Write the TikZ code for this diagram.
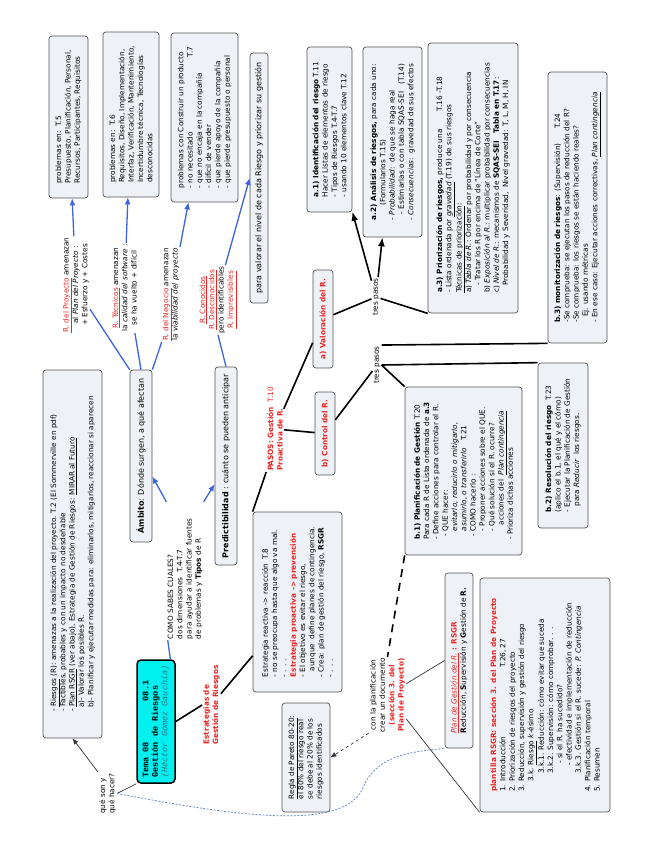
\documentclass[tikz,border=0pt]{standalone}
\usepackage{fontspec}
\setmainfont{DejaVu Sans}
\newfontfamily\temafont{Liberation Mono}
\usepackage{tikz}
\usetikzlibrary{shapes,arrows,arrows.meta,positioning,calc}
\usepackage{xcolor}
\definecolor{rojo}{RGB}{235,35,35}
\definecolor{azul}{RGB}{60,100,225}
\definecolor{fondocaja}{RGB}{238,241,245}
\definecolor{bordecaja}{RGB}{85,85,85}
\definecolor{cian}{RGB}{0,240,240}
\definecolor{autor}{RGB}{60,115,135}
\definecolor{punteado}{RGB}{110,140,195}

\begin{document}
\begin{tikzpicture}[x=1pt, y=-1pt, >={Latex[length=7pt,width=6pt]}, font=\fontsize{7.3}{9.3}\selectfont]

\tikzstyle{caja} = [rectangle, rounded corners=3pt, draw=bordecaja, fill=fondocaja, line width=0.7pt, rotate=90, align=left, inner sep=2pt];
\tikzstyle{etiq} = [rotate=90, align=center, inner sep=1pt];
\tikzstyle{azulflecha} = [->, azul, line width=1.3pt];
\tikzstyle{azullinea} = [azul, line width=1.3pt];
\tikzstyle{negra} = [black, line width=1.6pt];
\tikzstyle{fina} = [black!80, line width=0.7pt];

\fill[white] (0,0) rectangle (655,848);

% Tema central
\node (tema) [caja, fill=cian, draw=black, line width=1.5pt, rounded corners=4pt, minimum width=123pt, minimum height=38pt, font=\temafont\fontsize{8.5}{9.5}\selectfont] at (156,721.5) {\textbf{Tema 08\ \ \ \ \ \ \ \ 08.1}\\\textbf{Gestión de Riesgos}\\\textcolor{autor}{\textit{(Héctor Gómez Gauchía)}}};
\node (queson) [etiq, align=left] at (107.5,793.5) {qué son y\\qué hacer?};
\node (riesgos) [caja, minimum width=368pt, minimum height=59pt] at (72.5,554) {- \underline{Riesgos} (R): amenazas a la realización del proyecto. T.2 (El Sommerville en pdf)\\- Factibles, probables y con un impacto no desdeñable\\- \underline{Plan RSGR} (ver abajo), Estrategia de Gestión de Riesgos: \underline{MIRAR al Futuro}\\\hspace*{4pt}a)- Valorar los posibles R.\\\hspace*{4pt}b)- Planificar y ejecutar medidas para: eliminarlos, mitigarlos, reaccionar si aparecen};

% Ambito y Predictibilidad
\node (como) [etiq, align=left, text width=136pt] at (185,571) {COMO SABES CUALES?\\dos dimensiones\ \ T.4-T.7\\para ayudar a identificar fuentes\\de problemas y \textbf{Tipos} de R};
\node (ambito) [caja, minimum width=172pt, minimum height=22pt, font=\fontsize{8}{9.5}\selectfont] at (141,456) {\textbf{Ámbito}: Dónde surgen, a qué afectan};
\node (predic) [caja, minimum width=198pt, minimum height=22pt, font=\fontsize{8}{9.5}\selectfont] at (226,466) {\textbf{Predictibilidad} : cuánto se pueden anticipar};

% Tipos de riesgo
\node (lproy) [etiq] at (76,285) {\textcolor{rojo}{\underline{R. del Proyecto}} amenazan\\al \textit{Plan del Proyecto} :\\+ Esfuerzo y + Costes};
\node (ltec) [etiq] at (124.5,288) {\textcolor{rojo}{\underline{R. Técnicos}} amenazan\\la \textit{calidad del software} :\\se ha vuelto + difícil};
\node (lneg) [etiq] at (171,294.5) {\textcolor{rojo}{\underline{R. del Negocio}} amenazan\\la \textit{viabilidad del proyecto}};
\node (lconoc) [etiq] at (218,300) {\textcolor{rojo}{\underline{R. Conocidos}}\\\textcolor{rojo}{\underline{R. Desconocidos}}\\pero identificables\\\textcolor{rojo}{\underline{R. Imprevisibles}}};

\node (bproy) [caja, minimum width=162pt, minimum height=39pt] at (68.5,117) {problemas en:\ \ T.5\\Presupuesto, Planificación, Personal,\\Recursos, Participantes, Requisitos};
\node (btec) [caja, minimum width=165pt, minimum height=56pt] at (131,114.5) {problemas en:\ \ T.6\\Requisitos, Diseño, Implementación,\\Interfaz, Verificación, Mantenimiento,\\Incertidumbre técnica, Tecnologías\\desconocidas};
\node (bneg) [caja, minimum width=169pt, minimum height=67pt] at (204.5,117.5) {problemas con Construir un producto\\\makebox[131pt][l]{- no necesitado}T.7\\- que no encaja en la compañía\\- difícil de vender\\- que pierde apoyo de la compañía\\- que pierde presupuesto o personal};
\node (valorar) [caja, minimum width=250pt, minimum height=18pt, font=\fontsize{8}{9.5}\selectfont] at (259,178) {para valorar el nivel de cada Riesgo y priorizar su gestión};

% Estrategias
\node (estratlab) [etiq, align=left, text=rojo] at (211.5,705) {\textbf{Estrategias de}\\\textbf{Gestión de Riesgos}};
\node (estrat) [caja, minimum width=180pt, minimum height=89pt] at (297.5,602) {Estrategia reactiva -> reacción\ \ T.8\\- no se preocupa hasta que algo va mal.\\- . . .\\\textcolor{rojo}{\textbf{Estrategia proactiva -> prevención}}\\- El objetivo es evitar el riesgo,\\\hspace*{0.8em}aunque\ \ define planes de contingencia.\\- Crea: plan de gestión del riesgo, \textbf{RSGR}\\- . . .};
\node (pasos) [etiq, align=left, text=rojo] at (275,429) {\textbf{PASOS: Gestión}\ \ T.10\\\textbf{Proactiva de R.}};

% Pasos a) Valoracion
\node (valA) [caja, minimum width=98pt, minimum height=20pt, text=rojo] at (323,319) {\textbf{a) Valoración del R.}};
\node (tres1) [etiq] at (376,297) {tres pasos};
\node (a1) [caja, minimum width=165pt, minimum height=45pt] at (329.5,129.5) {\textbf{a.1) Identificación del riesgo} T.11\\Hacer Listas de elementos de riesgo\\- Tipos de Riesgos T.4-T.7\\- usando 10 elementos clave T.12};
\node (a2) [caja, minimum width=190pt, minimum height=59pt] at (392.5,142) {\textbf{a.2) Análisis de riesgos,} para cada uno:\\\hspace*{2em}(Formularios T.15)\\- \textit{Probabilidad}:\ \ de que se haga real\\\hspace*{0.8em}- Estimarlas o con tabla SQAS-SEI\ \ \ (T.14)\\- \textit{Consecuencias}:\ \ gravedad de sus efectos};
\node (a3) [caja, minimum width=270pt, minimum height=90pt] at (473,178) {\textbf{a.3) Priorización de riesgos,} produce una\hspace{2.5em}T.16 -T.18\\- Lista ordenada por \textit{\underline{gravedad}} (T.19) de sus riesgos\\\underline{Técnicas de priorización}:\\a) \textit{Tabla de R.}: Ordenar por probabilidad y por consecuencia\\\hspace*{1em}- Tratar los R por encima de ``Línea de Corte''\\b) \textit{Exposición al R.}: multiplicar probabilidad por consecuencias\\c) \textit{Nivel de R.}: mecanismos de \textbf{SQAS-SEI}\ \ \ \textbf{Tabla en T.17}:\\\hspace*{1em}Probabilidad y Severidad,\ \ Nivel gravedad: T, L, M, H, IN};

% Pasos b) Control
\node (ctrlB) [caja, minimum width=83pt, minimum height=20pt, text=rojo] at (325,433.5) {\textbf{b) Control del R.}};
\node (tres2) [etiq] at (377,365) {tres pasos};
\node (b1) [caja, minimum width=168pt, minimum height=117pt] at (463.5,471) {\textbf{b.1) Planificación de Gestión} T.20\\Para cada R de Lista ordenada de \textbf{a.3}\\- Define acciones para controlar el R.\\\hspace*{0.5em}- QUE hacer:\\\hspace*{1.2em}\textit{evitarlo, reducirlo o mitigarlo,}\\\hspace*{1.2em}\textit{asumirlo, o transferirlo}\ \ \ T.21\\\hspace*{0.5em}- COMO hacerlo :\\\hspace*{1.2em}- Proponer acciones sobre el QUE.\\\hspace*{1.2em}- Qué solución si el R. ocurre?\\\hspace*{2em}acciones del\ \ \textit{\underline{Plan contingencia}}\\- Prioriza dichas acciones};
\node (b2) [caja, minimum width=165pt, minimum height=50pt] at (563,445.5) {\textbf{b.2) Resolución del riesgo}\ \ T.23\\(aplico el b.1, el qué y el cómo)\\- Ejecutar la Planificación de Gestión\\\hspace*{0.8em}para \textit{Reducir}\ \ los riesgos.};
\node (b3) [caja, minimum width=271pt, minimum height=59pt] at (577.5,207.5) {\textbf{b.3) monitorización de riesgos}: (Supervisión)\hspace{2em}T.24\\-Se comprueba: se ejecutan los pasos de reducción del R?\\-Se comprueba: los riesgos se están haciendo reales?\\\hspace*{0.8em}Ej. usando métricas\\- En ese caso: Ejecutar acciones correctivas, \textit{\underline{Plan contingencia}}};

% Documento RSGR
\node (conla) [etiq] at (387.5,695) {con la planificación\\crear un documento\\\textcolor{rojo}{\textbf{(sección 3. del}}\\\textcolor{rojo}{\textbf{Plan de Proyecto)}}};
\node (pareto) [caja, minimum width=109pt, minimum height=48pt] at (306,757.5) {\underline{Regla de Pareto 80-20}:\\el 80\% del riesgo real\\se debe al 20\% de los\\riesgos identificados};
\node (plangest) [caja, minimum width=175pt, minimum height=28pt] at (459,660.5) {\textcolor{rojo}{\textit{\underline{Plan de Gestión del R.}}\textbf{ : RSGR}}\\\textbf{R}educción, \textbf{S}upervisión y \textbf{G}estión de \textbf{R.}};
\node (plantilla) [caja, minimum width=234pt, minimum height=130pt] at (545,695) {\textcolor{rojo}{\textbf{plantilla RSGR: sección 3. del Plan de Proyecto}}\\\makebox[124pt][l]{1. Introducción}T.26, 27\\2. Priorización de riesgos del proyecto\\3. Reducción, supervisión y gestión del riesgo\\\hspace*{10pt}3.k. \underline{Riesgo} \textit{k}-ésimo\\\hspace*{18pt}3.k.1. Reducción: cómo evitar que suceda\\\hspace*{18pt}3.k.2. Supervisión: cómo comprobar. . .\\\hspace*{28pt}- si el R. ha sucedido?\\\hspace*{26pt}- efectividad e implementación de reducción\\\hspace*{18pt}3.k.3. Gestión si el R. sucede: \textit{P. Contingencia}\\4. Planificación temporal\\5. Resumen};

% Conexiones azules
\draw[azullinea] (tema.-13) -- (como.166);
\draw[azulflecha] (como.north east) -- (ambito);
\draw[azulflecha] (como.south east) -- (predic);
\draw[azullinea] (ambito.north east) -- (lproy.210);
\draw[azulflecha] (lproy) -- (bproy);
\draw[azullinea] (ambito.east) -- (ltec.193);
\draw[azulflecha] (ltec) -- (btec);
\draw[azullinea] (ambito.south east) -- (lneg.north west);
\draw[azulflecha] (lneg) -- (bneg);
\draw[azullinea] (predic.east) -- (lconoc.west);
\draw[azulflecha] (lconoc.-12) -- (valorar.north);

% Conexiones negras
\draw[fina] (tema.north west) -- (queson.south);
\draw[fina, ->, >={Latex[length=6pt,width=5pt]}] (queson.north east) -- (riesgos.west);
\draw[negra] (tema.south) -- (estratlab.north);
\draw[negra] (estratlab) -- (estrat);
\draw[negra] (estrat.north east) -- (pasos.north west);
\draw[negra] (pasos) -- (valA);
\draw[negra] (pasos) -- (ctrlB);
\draw[negra] (valA) -- (tres1);
\draw[negra, ->, >={Latex[length=9pt,width=7pt]}] (tres1) -- (a1);
\draw[negra, ->, >={Latex[length=9pt,width=7pt]}] (tres1) -- (a2);
\draw[negra] (tres1) -- (a3.north west);
\draw[negra] (ctrlB) -- (tres2);
\draw[negra] (tres2.south east) -- (b3.north west);
\draw[negra] (tres2.south) -- (b2.north east);
\draw[negra] (tres2.south) -- (b1.north east);
\draw[negra, dash pattern=on 8pt off 6pt] (b1.north west) -- (conla.east);
\draw[fina, dashed, ->, >={Latex[length=6pt,width=5pt]}] (conla.north west) -- (pareto.south);
\draw[fina] (conla) -- (plangest.north);
\draw[fina] (conla) -- (plantilla.north west);
\draw[punteado, line width=0.8pt, dash pattern=on 2pt off 1.5pt] (queson.south) .. controls (230,815) and (340,832) .. (362,790) .. controls (375,755) and (410,752) .. (plangest.north west);

\end{tikzpicture}
\end{document}
